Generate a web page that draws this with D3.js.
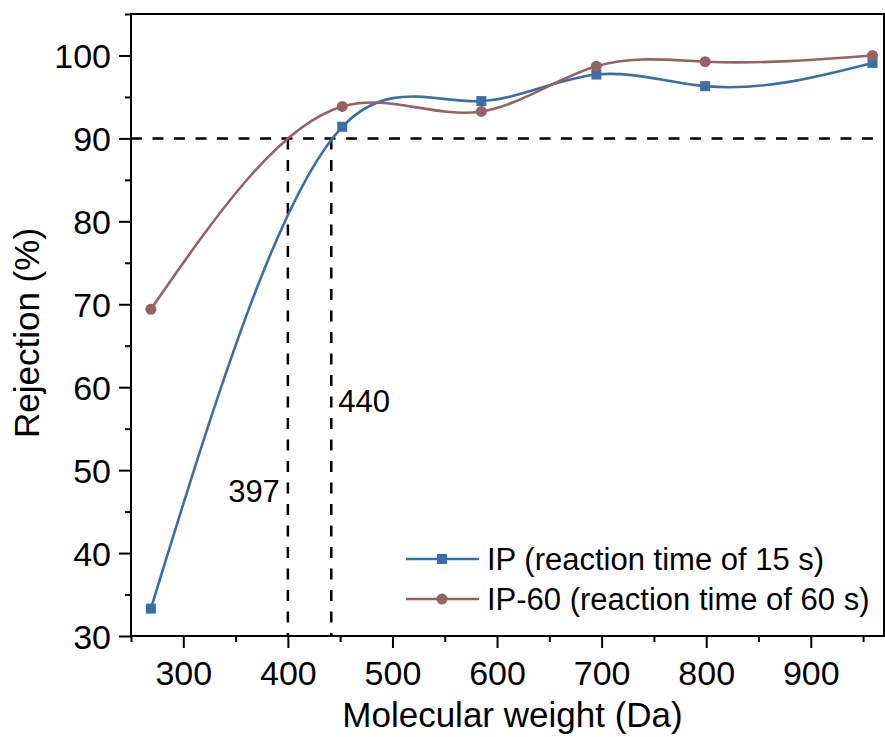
<!DOCTYPE html>
<html>
<head>
<meta charset="utf-8">
<script src="https://cdn.jsdelivr.net/npm/d3@7"></script>
<style>
  body { margin: 0; background: #fff; }
  text { font-family: Arial, "Liberation Sans", sans-serif; fill: #000; }
</style>
</head>
<body>
<div id="chart"></div>
<script>
// data
var weights = [269, 452, 585, 695, 799, 959];
var ipValues = [33.3, 91.4, 94.5, 97.7, 96.3, 99.1];
var ip60Values = [69.4, 93.85, 93.25, 98.7, 99.25, 100.0];
var seriesNames = ["IP (reaction time of 15 s)", "IP-60 (reaction time of 60 s)"];
var xTicks = [300, 400, 500, 600, 700, 800, 900];
var yTicks = [30, 40, 50, 60, 70, 80, 90, 100];
var cutoffLevel = 90;
var cutoffLabels = [397, 440];
// where the guide lines actually sit on the x axis (where the curves cross 90 %)
var cutoffLineX = [400, 441.5];

// natural cubic spline in x (like Origin's "Spline" connection), drawn as bezier segments
function NaturalX(context) { this._context = context; }
NaturalX.prototype = {
  areaStart: function() { this._line = 0; },
  areaEnd: function() { this._line = NaN; },
  lineStart: function() { this._x = []; this._y = []; },
  point: function(x, y) { this._x.push(+x); this._y.push(+y); },
  lineEnd: function() {
    var x = this._x, y = this._y, n = x.length, c = this._context;
    if (!n) return;
    c.moveTo(x[0], y[0]);
    if (n < 3) { for (var k = 1; k < n; k++) c.lineTo(x[k], y[k]); return; }
    var h = [], i;
    for (i = 0; i < n - 1; i++) h.push(x[i + 1] - x[i]);
    // tridiagonal solve for second derivatives
    var a = [], b = [], cc = [], r = [];
    for (i = 1; i < n - 1; i++) {
      a.push(h[i - 1]); b.push(2 * (h[i - 1] + h[i])); cc.push(h[i]);
      r.push(6 * ((y[i + 1] - y[i]) / h[i] - (y[i] - y[i - 1]) / h[i - 1]));
    }
    var m = r.length;
    for (i = 1; i < m; i++) {
      var w = a[i] / b[i - 1];
      b[i] -= w * cc[i - 1];
      r[i] -= w * r[i - 1];
    }
    var M = new Array(n).fill(0);
    M[m] = r[m - 1] / b[m - 1];
    for (i = m - 2; i >= 0; i--) M[i + 1] = (r[i] - cc[i] * M[i + 2]) / b[i];
    var d = [];
    for (i = 0; i < n - 1; i++) d.push((y[i + 1] - y[i]) / h[i] - h[i] * (2 * M[i] + M[i + 1]) / 6);
    d.push((y[n - 1] - y[n - 2]) / h[n - 2] + h[n - 2] * (M[n - 2] + 2 * M[n - 1]) / 6);
    for (i = 0; i < n - 1; i++) {
      var t = h[i] / 3;
      c.bezierCurveTo(x[i] + t, y[i] + t * d[i], x[i + 1] - t, y[i + 1] - t * d[i + 1], x[i + 1], y[i + 1]);
    }
  }
};
function curveNaturalX(context) { return new NaturalX(context); }

(function() {
  var margin = { top: 14, left: 131, right: 1, bottom: 101 },
      width = 885 - margin.left - margin.right,
      height = 737 - margin.top - margin.bottom;

  var svg = d3.select("#chart")
      .append("svg")
      .attr("width", 885)
      .attr("height", 737)
      .append("g")
      .attr("transform", "translate(" + margin.left + "," + margin.top + ")");

  var xScale = d3.scaleLinear().domain([250, 970]).range([0, width]);
  var yScale = d3.scaleLinear().domain([30, 105]).range([height, 0]);

  var colors = ["#3a6ea8", "#966262"];

  // frame
  svg.append("rect")
    .attr("x", 0).attr("y", 0)
    .attr("width", width).attr("height", height)
    .attr("fill", "none")
    .attr("stroke", "#000")
    .attr("stroke-width", 2);

  // axes
  var xMinor = d3.range(250, 971, 100);
  var yMinor = d3.range(35, 106, 10);

  var xAxis = svg.append("g")
    .attr("transform", "translate(0," + height + ")");
  xAxis.call(d3.axisBottom(xScale).tickValues(xTicks).tickSize(12).tickSizeOuter(0).tickPadding(10));
  xAxis.append("g").call(d3.axisBottom(xScale).tickValues(xMinor).tickSize(6).tickFormat(""));

  var yAxis = svg.append("g");
  yAxis.call(d3.axisLeft(yScale).tickValues(yTicks).tickSize(12).tickSizeOuter(0).tickPadding(8));
  yAxis.append("g").call(d3.axisLeft(yScale).tickValues(yMinor).tickSize(6).tickFormat(""));

  svg.selectAll(".domain").remove();
  svg.selectAll(".tick line").attr("stroke", "#000").attr("stroke-width", 2);
  xAxis.selectAll(".tick text").attr("font-size", 34).attr("dy", "0.8em");
  yAxis.selectAll(".tick text").attr("font-size", 34).attr("dy", "0.36em");

  // axis titles
  svg.append("text")
    .attr("x", width / 2 + 5)
    .attr("y", height + 91)
    .attr("text-anchor", "middle")
    .attr("font-size", 35)
    .text("Molecular weight (Da)");

  svg.append("text")
    .attr("transform", "translate(" + (-92) + "," + (height / 2 + 8) + ") rotate(-90)")
    .attr("text-anchor", "middle")
    .attr("font-size", 35)
    .text("Rejection (%)");

  // cutoff guides
  var dash = "11,10.5";
  svg.append("line")
    .attr("x1", xScale(250)).attr("x2", xScale(970))
    .attr("y1", yScale(cutoffLevel)).attr("y2", yScale(cutoffLevel))
    .attr("stroke", "#000").attr("stroke-width", 2.5)
    .attr("stroke-dasharray", dash);

  svg.selectAll(".cutoff")
    .data(cutoffLineX)
    .enter().append("line")
    .attr("class", "cutoff")
    .attr("x1", function(d) { return xScale(d) })
    .attr("x2", function(d) { return xScale(d) })
    .attr("y1", yScale(cutoffLevel))
    .attr("y2", yScale(30))
    .attr("stroke", "#000").attr("stroke-width", 2.5)
    .attr("stroke-dasharray", dash);

  svg.append("text")
    .attr("x", xScale(cutoffLineX[0]) - 8)
    .attr("y", yScale(46.1))
    .attr("text-anchor", "end")
    .attr("font-size", 31)
    .text(cutoffLabels[0]);

  svg.append("text")
    .attr("x", xScale(cutoffLineX[1]) + 7)
    .attr("y", yScale(57))
    .attr("font-size", 31)
    .text(cutoffLabels[1]);

  // series
  var series = [ipValues, ip60Values].map(function(vals, i) {
    return vals.map(function(v, j) { return { x: weights[j], y: v, s: i } });
  });

  var line = d3.line()
    .x(function(d) { return xScale(d.x) })
    .y(function(d) { return yScale(d.y) })
    .curve(curveNaturalX);

  svg.selectAll(".series")
    .data(series)
    .enter().append("path")
    .attr("class", "series")
    .attr("d", line)
    .attr("fill", "none")
    .attr("stroke", function(d, i) { return colors[i] })
    .attr("stroke-width", 2.6);

  svg.selectAll(".sq")
    .data(series[0])
    .enter().append("rect")
    .attr("class", "sq")
    .attr("x", function(d) { return xScale(d.x) - 5 })
    .attr("y", function(d) { return yScale(d.y) - 5 })
    .attr("width", 10).attr("height", 10)
    .attr("fill", colors[0]);

  svg.selectAll(".dot")
    .data(series[1])
    .enter().append("circle")
    .attr("class", "dot")
    .attr("cx", function(d) { return xScale(d.x) })
    .attr("cy", function(d) { return yScale(d.y) })
    .attr("r", 5.5)
    .attr("fill", colors[1]);

  // legend
  var legend = svg.selectAll(".legend")
    .data(seriesNames)
    .enter().append("g")
    .attr("class", "legend")
    .attr("transform", function(d, i) { return "translate(" + 275 + "," + (545 + i * 40) + ")" });

  legend.append("line")
    .attr("x1", 0).attr("x2", 73)
    .attr("stroke", function(d, i) { return colors[i] })
    .attr("stroke-width", 2.6);

  legend.each(function(d, i) {
    var g = d3.select(this);
    if (i === 0) {
      g.append("rect").attr("x", 31).attr("y", -5).attr("width", 10).attr("height", 10).attr("fill", colors[0]);
    } else {
      g.append("circle").attr("cx", 36).attr("cy", 0).attr("r", 5.5).attr("fill", colors[1]);
    }
  });

  legend.append("text")
    .attr("x", 81)
    .attr("y", 11)
    .attr("font-size", 31)
    .text(function(d) { return d });
})()
</script>
</body>
</html>
